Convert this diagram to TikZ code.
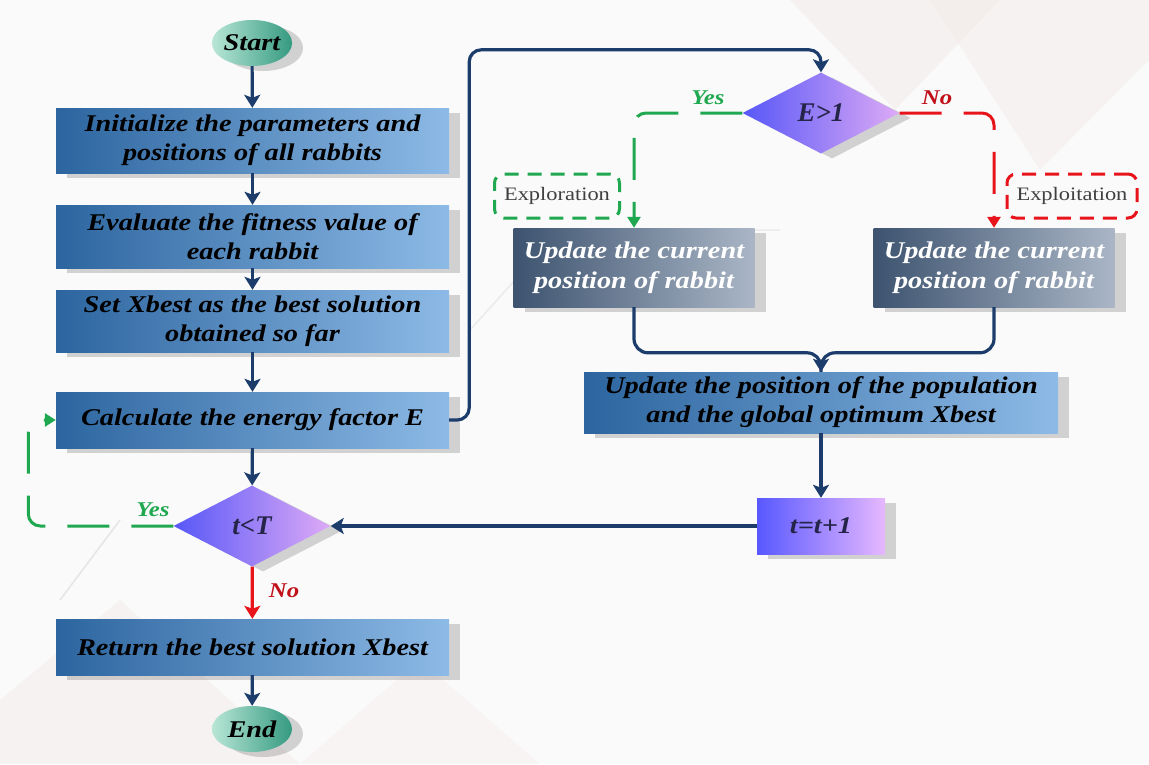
\documentclass[tikz,border=0pt]{standalone}
\usepackage{fontspec}
\setmainfont{Liberation Serif}[FakeStretch=1.18]
\newfontfamily\plainfont{Liberation Serif}
\usetikzlibrary{shapes.geometric,arrows.meta,shadows,calc}
\definecolor{boxL}{HTML}{2C659F}
\definecolor{boxR}{HTML}{8DBAE6}
\definecolor{slateL}{HTML}{3D536F}
\definecolor{slateR}{HTML}{AAB6C6}
\definecolor{flowc}{HTML}{1C3D6B}
\definecolor{grn}{HTML}{1FA84F}
\definecolor{rd}{HTML}{E8141B}
\definecolor{nored}{HTML}{C0101A}
\definecolor{diaL}{HTML}{5757F7}
\definecolor{diaR}{HTML}{DDAAF6}
\definecolor{ttL}{HTML}{5858FF}
\definecolor{ttR}{HTML}{E6B8FF}
\definecolor{ellL}{HTML}{B8E6D6}
\definecolor{ellR}{HTML}{359A80}
\definecolor{bgc}{HTML}{FAFAFA}
\definecolor{tri}{HTML}{F3ECEA}
\definecolor{dtext}{HTML}{25254A}
\tikzset{
  x=1pt,y=-1pt,
  shad/.style={drop shadow={shadow xshift=11pt,shadow yshift=-5pt,opacity=0.16,fill=black}},
  bluebox/.style={rectangle,shad,left color=boxL,right color=boxR,draw=none,minimum width=393pt,
     align=center,font=\fontsize{24}{29}\selectfont\bfseries\itshape,text=black,inner sep=0pt},
  slatebox/.style={rectangle,shad,left color=slateL,right color=slateR,draw=none,minimum width=241pt,minimum height=79pt,
     align=center,font=\fontsize{24}{30}\selectfont\bfseries\itshape,text=white,inner sep=0pt},
  decision/.style={diamond,shad,left color=diaL,right color=diaR,draw=none,minimum width=157pt,minimum height=81pt,
     inner sep=0pt,font=\plainfont\fontsize{27}{30}\selectfont\bfseries\itshape,text=dtext},
  terminal/.style={ellipse,shad,shading angle=135,left color=ellL,right color=ellR,draw=none,minimum width=80pt,minimum height=46pt,
     inner sep=0pt,font=\fontsize{24}{28}\selectfont\bfseries\itshape},
  flow/.style={draw=flowc,line width=3.2pt,-{Stealth[length=13pt,width=16pt,inset=3pt]}},
  flowplain/.style={draw=flowc,line width=3.2pt},
  gflow/.style={draw=grn,line width=3pt,dash pattern=on 42pt off 22pt,-{Triangle[length=11pt,width=13pt]}},
  rflow/.style={draw=rd,line width=3pt,dash pattern=on 42pt off 22pt,-{Triangle[length=11pt,width=13pt]}},
  tagbox/.style={rectangle,rounded corners=9pt,line width=3pt,dash pattern=on 14pt off 9pt,
     font=\fontsize{19}{22}\selectfont,text=black!75,inner sep=0pt},
  yeslbl/.style={font=\fontsize{21}{24}\selectfont\bfseries\itshape,text=grn},
  nolbl/.style={font=\fontsize{21}{24}\selectfont\bfseries\itshape,text=nored},
}
\begin{document}
\begin{tikzpicture}
\fill[bgc] (0,0) rectangle (1149,764);
\useasboundingbox (0,0) rectangle (1149,764);
% faint background triangles
\fill[tri,opacity=0.6] (790,0) -- (1000,0) -- (895,110) -- cycle;
\fill[tri,opacity=0.5] (930,0) -- (1149,0) -- (1149,60) -- (1040,170) -- cycle;
\fill[tri,opacity=0.5] (0,700) -- (120,600) -- (300,764) -- (0,764) -- cycle;
\fill[tri,opacity=0.4] (300,764) -- (420,660) -- (540,764) -- cycle;
\draw[black!10,line width=1.5pt] (120,520) -- (60,600);
\draw[black!8,line width=1.5pt] (470,330) -- (560,230) -- (780,230);

% left column
\node[terminal] (start) at (252,43) {Start};
\node[bluebox,minimum height=65pt] (b1) at (252.5,140.5) {Initialize the parameters and\\positions of all rabbits};
\node[bluebox,minimum height=63pt] (b2) at (252.5,236.5) {Evaluate the fitness value of\\each rabbit};
\node[bluebox,minimum height=62pt] (b3) at (252.5,321) {Set Xbest as the best solution\\obtained so far};
\node[bluebox,minimum height=56pt] (b4) at (252.5,420) {Calculate the energy factor E};
\node[decision] (d1) at (252,526) {t<T};
\node[bluebox,minimum height=56pt] (b5) at (252.5,647) {Return the best solution Xbest};
\node[terminal] (end) at (252,729) {End};

% right part
\node[decision] (d2) at (821,113) {E>1};
\node[slatebox] (u1) at (634,267.5) {Update the current\\position of rabbit};
\node[slatebox] (u2) at (994,267.5) {Update the current\\position of rabbit};
\node[tagbox,draw=grn,minimum width=125pt,minimum height=44pt] (expl) at (557,196) {Exploration};
\node[tagbox,draw=rd,minimum width=130pt,minimum height=44pt] (expt) at (1072,196) {Exploitation};
\node[bluebox,minimum width=474pt,minimum height=61pt] (pop) at (821,402.5) {Update the position of the population\\and the global optimum Xbest};
\node[rectangle,shad,left color=ttL,right color=ttR,minimum width=128pt,minimum height=56pt,inner sep=0pt,
      font=\fontsize{24}{28}\selectfont\bfseries\itshape,text=dtext] (tt) at (821,526) {t=t+1};

% connectors
\draw[flow] (start) -- (b1);
\draw[flow] (b1) -- (b2);
\draw[flow] (b2) -- (b3);
\draw[flow] (b3) -- (b4);
\draw[flow] (b4) -- (d1);
\draw[flow,draw=rd] (d1) -- (b5);
\draw[flow] (b5) -- (end);
\draw[flow,rounded corners=12pt] (b4.east) -- ++(20,0) |- ([yshift=22.5pt]d2.north) -- (d2.north);
\draw[gflow,rounded corners=12pt] (d2.west) -| (u1.north);
\draw[rflow,rounded corners=12pt] (d2.east) -| (u2.north);
\draw[flowplain,rounded corners=14pt] (u2.south) |- ([yshift=19pt]pop.north) -- (pop.north);
\draw[flow,rounded corners=14pt] (u1.south) |- ([yshift=19pt]pop.north) -- (pop.north);
\draw[flow] (pop) -- (tt);
\draw[flow] (tt) -- (d1);
\draw[gflow,rounded corners=12pt] (d1.west) -- ++(-145,0) |- (b4.west);

% labels
\node[yeslbl] (y1) at (153,510) {Yes};
\node[nolbl] (n1) at (284,591) {No};
\node[yeslbl] (y2) at (708,98) {Yes};
\node[nolbl] (n2) at (937,98) {No};
\end{tikzpicture}
\end{document}
